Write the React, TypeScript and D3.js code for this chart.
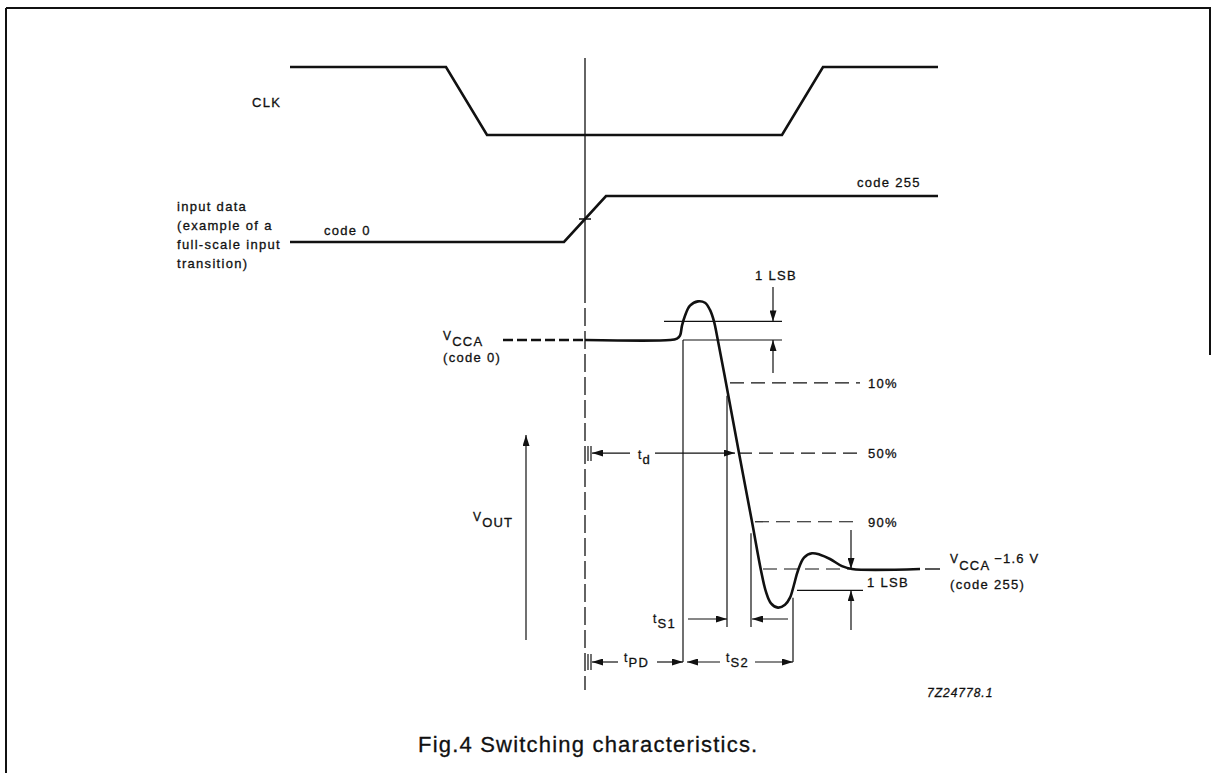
import React from 'react';
import * as d3 from 'd3';

const W = 1212;
const H = 773;

// time is in arbitrary units relative to the sampling edge (t = 0)
const clkT = [-29.5, -13.9, -9.8, 19.7, 23.8, 35.3];
const clkLevel = [1, 1, 0, 0, 1, 1];

const dataT = [-29.5, -2.1, 2.1, 35.3];
const dataCode = [0, 0, 255, 255];

// output voltage relative to VCCA (V)
const outT = [0, 8.5, 9.2, 9.5, 9.7, 10.0, 10.5, 11.3, 12.0, 12.5, 12.9, 13.2, 14.1, 15.4, 16.7, 17.6, 18.1, 18.6, 19.3, 20.0, 20.5, 20.9, 21.3, 21.9, 22.7, 23.5, 24.5, 25.7, 26.7, 33.5];
const outV = [0, 0, 0.01, 0.03, 0.1, 0.17, 0.24, 0.27, 0.26, 0.21, 0.13, 0.03, -0.3, -0.79, -1.27, -1.61, -1.76, -1.84, -1.87, -1.85, -1.8, -1.71, -1.61, -1.52, -1.49, -1.5, -1.53, -1.58, -1.6, -1.6];

const levelLabels = ['10%', '50%', '90%'];
const levelV = [-0.3, -0.79, -1.27];
const levelStartT = [14.5, 15.3, 17.0];
const levelEndT = 27.5;

const lsbTopV = 0.13;
const lsbBottomV = -1.75;
const finalV = -1.6;

// timing marks
const startT = 9.8;
const cross50T = 15.0;
const s1EndT = 14.2;
const s2BeginT = 16.6;
const s2EndT = 20.8;

const font = '"Liberation Sans", Arial, Helvetica, sans-serif';
const ink = '#111';

function Txt({ x, y, children, size = 13, ls = 1.3, italic = false }: any) {
  return (
    <text x={x} y={y} fontSize={size} letterSpacing={ls} fontStyle={italic ? 'italic' : 'normal'}
      fill={ink} stroke={ink} strokeWidth={0.3} fontFamily={font}>
      {children}
    </text>
  );
}

function Sub({ x, y, main, sub, mainSize = 12, subSize = 13, up = 6 }: any) {
  return (
    <text fontFamily={font} fill={ink} stroke={ink} strokeWidth={0.3} letterSpacing={1.2}>
      <tspan x={x} y={y - up} fontSize={mainSize}>{main}</tspan>
      <tspan y={y} fontSize={subSize}>{sub}</tspan>
    </text>
  );
}

export default function App() {
  const x = d3.scaleLinear().domain([0, 10]).range([585, 685]);
  const yClk = d3.scaleLinear().domain([0, 1]).range([135, 67]);
  const yData = d3.scaleLinear().domain([0, 255]).range([242, 196]);
  const yOut = d3.scaleLinear().domain([0, -1.6]).range([340, 569]);

  const line = d3.line<[number, number]>();
  const clkPath = line(clkT.map((t, i) => [x(t), yClk(clkLevel[i])])) || '';
  const dataPath = line(dataT.map((t, i) => [x(t), yData(dataCode[i])])) || '';
  const outPath =
    d3
      .line<number>()
      .x((t) => x(t))
      .y((_, i) => yOut(outV[i]))
      .curve(d3.curveCatmullRom.alpha(0.5))(outT) || '';

  const rowD = yOut(levelV[1]);
  const rowS1 = 619;
  const rowPD = 662;
  const x0 = x(0);

  const thin = { stroke: ink, strokeWidth: 1.2, fill: 'none' };
  const dash = { ...thin, strokeDasharray: '14 7' };
  const arrow = { ...thin, markerEnd: 'url(#arr)' };

  return (
    <svg width={W} height={H} style={{ position: 'absolute', left: 0, top: 0, display: 'block', background: '#fff' }}>
      <defs>
        <marker id="arr" viewBox="0 0 11 7" refX="11" refY="3.5" markerWidth="11" markerHeight="7" markerUnits="userSpaceOnUse" orient="auto">
          <path d="M0,0L11,3.5L0,7z" fill={ink} />
        </marker>
      </defs>

      {/* frame */}
      <line x1={6} y1={8} x2={1211} y2={8} stroke={ink} strokeWidth={2} />
      <line x1={6} y1={8} x2={6} y2={H} stroke={ink} strokeWidth={2} />
      <line x1={1210} y1={8} x2={1210} y2={355} stroke={ink} strokeWidth={2} />

      {/* sampling edge */}
      <line x1={x0} y1={58} x2={x0} y2={285} {...thin} strokeWidth={1.3} />
      <line x1={x0} y1={285} x2={x0} y2={690} {...thin} strokeWidth={1.3} strokeDasharray="18 5" />

      {/* clock & input data */}
      <path d={clkPath} stroke={ink} strokeWidth={2.6} fill="none" />
      <path d={dataPath} stroke={ink} strokeWidth={2.6} fill="none" />
      <line x1={x0 - 6} y1={yData(127.5)} x2={x0 + 6} y2={yData(127.5)} stroke={ink} strokeWidth={1.5} />

      {/* output */}
      <line x1={x(-8.2)} y1={yOut(0)} x2={x0} y2={yOut(0)} stroke={ink} strokeWidth={2.6} strokeDasharray="10 4" />
      <path d={outPath} stroke={ink} strokeWidth={2.6} fill="none" strokeLinejoin="round" />
      <line x1={x(34)} y1={yOut(finalV)} x2={x(35.5)} y2={yOut(finalV)} stroke={ink} strokeWidth={1.4} />

      {/* 1 LSB top */}
      <line x1={x(7.9)} y1={yOut(lsbTopV)} x2={x(19.7)} y2={yOut(lsbTopV)} {...thin} />
      <line x1={x(startT)} y1={yOut(0)} x2={x(19.7)} y2={yOut(0)} {...thin} />
      <line x1={x(18.8)} y1={287} x2={x(18.8)} y2={yOut(lsbTopV)} {...arrow} />
      <line x1={x(18.8)} y1={373} x2={x(18.8)} y2={yOut(0)} {...arrow} />

      {/* percentage levels */}
      {levelV.map((v, i) => (
        <line key={i} x1={x(levelStartT[i])} y1={yOut(v)} x2={x(levelEndT)} y2={yOut(v)} {...dash} />
      ))}

      {/* 1 LSB bottom */}
      <line x1={x(17.8)} y1={yOut(finalV)} x2={x(26.5)} y2={yOut(finalV)} {...dash} />
      <line x1={x(21.2)} y1={yOut(lsbBottomV)} x2={x(27.8)} y2={yOut(lsbBottomV)} {...thin} />
      <line x1={x(26.6)} y1={530} x2={x(26.6)} y2={yOut(finalV)} {...arrow} />
      <line x1={x(26.6)} y1={630} x2={x(26.6)} y2={yOut(lsbBottomV)} {...arrow} />

      {/* timing verticals */}
      <line x1={x(startT)} y1={yOut(0)} x2={x(startT)} y2={rowPD} {...thin} />
      <line x1={x(s1EndT)} y1={yOut(-0.39)} x2={x(s1EndT)} y2={rowS1 + 8} {...thin} />
      <line x1={x(s2BeginT)} y1={yOut(-1.35)} x2={x(s2BeginT)} y2={rowS1 + 8} {...thin} />
      <line x1={x(s2EndT)} y1={yOut(-1.8)} x2={x(s2EndT)} y2={rowPD} {...thin} />

      {/* td */}
      <line x1={x0 + 3} y1={rowD - 7} x2={x0 + 3} y2={rowD + 8} {...thin} />
      <line x1={x0 + 6} y1={rowD - 7} x2={x0 + 6} y2={rowD + 8} {...thin} />
      <line x1={x(4.5)} y1={rowD} x2={x0 + 7} y2={rowD} {...arrow} />
      <line x1={x(7.0)} y1={rowD} x2={x(cross50T)} y2={rowD} {...arrow} />

      {/* tS1 */}
      <line x1={x(10.3)} y1={rowS1} x2={x(s1EndT)} y2={rowS1} {...arrow} />
      <line x1={x(20.3)} y1={rowS1} x2={x(s2BeginT) + 1} y2={rowS1} {...arrow} />

      {/* tPD, tS2 */}
      <line x1={x0 + 3} y1={rowPD - 8} x2={x0 + 3} y2={rowPD + 8} {...thin} />
      <line x1={x0 + 6} y1={rowPD - 8} x2={x0 + 6} y2={rowPD + 8} {...thin} />
      <line x1={x(3.3)} y1={rowPD} x2={x0 + 7} y2={rowPD} {...arrow} />
      <line x1={x(7.2)} y1={rowPD} x2={x(startT)} y2={rowPD} {...arrow} />
      <line x1={x(13.5)} y1={rowPD} x2={x(startT) + 4} y2={rowPD} {...arrow} />
      <line x1={x(17.0)} y1={rowPD} x2={x(s2EndT)} y2={rowPD} {...arrow} />

      {/* VOUT axis arrow */}
      <line x1={526} y1={640} x2={526} y2={435} {...arrow} />

      {/* labels */}
      <Txt x={252} y={107}>CLK</Txt>
      <Txt x={177} y={211}>input data</Txt>
      <Txt x={177} y={230}>(example of a</Txt>
      <Txt x={177} y={249}>full-scale input</Txt>
      <Txt x={177} y={268}>transition)</Txt>
      <Txt x={324} y={235}>code 0</Txt>
      <Txt x={857} y={187}>code 255</Txt>

      <Sub x={443} y={346} main="V" sub="CCA" />
      <Txt x={443} y={362}>(code 0)</Txt>
      <Sub x={473} y={527} main="V" sub="OUT" />

      <Txt x={755} y={280}>1 LSB</Txt>
      {levelLabels.map((l, i) => (
        <Txt key={l} x={x(levelEndT) + 8} y={yOut(levelV[i]) + 5}>{l}</Txt>
      ))}
      <Txt x={867} y={587}>1 LSB</Txt>

      <text fontFamily={font} fill={ink} stroke={ink} strokeWidth={0.3} letterSpacing={1.2}>
        <tspan x={950} y={563} fontSize={12}>V</tspan>
        <tspan y={570} fontSize={13}>CCA</tspan>
        <tspan y={563} fontSize={13} dx={4}>−1.6 V</tspan>
      </text>
      <Txt x={950} y={589}>(code 255)</Txt>

      <Sub x={638} y={464} main="t" sub="d" up={5} />
      <Sub x={653} y={628} main="t" sub="S1" up={5} />
      <Sub x={624} y={667} main="t" sub="PD" up={5} />
      <Sub x={726} y={667} main="t" sub="S2" up={5} />

      <Txt x={927} y={697} size={12} ls={1} italic>7Z24778.1</Txt>
      <Txt x={418} y={752} size={22} ls={1.2}>Fig.4 Switching characteristics.</Txt>
    </svg>
  );
}
